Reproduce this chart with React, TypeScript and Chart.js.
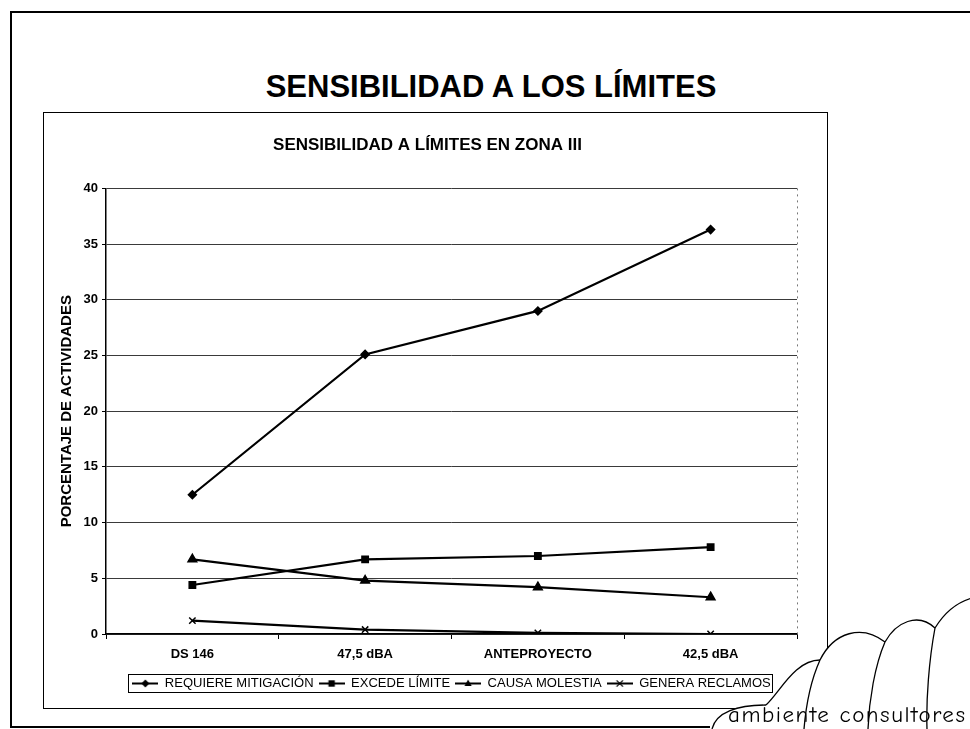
import React, { useEffect, useRef } from "react";
import { Chart, registerables } from "chart.js";

Chart.register(...registerables);

// ---------- data ----------
const categories = ["DS 146", "47,5 dBA", "ANTEPROYECTO", "42,5 dBA"];
const requiereMitigacion = [12.5, 25.1, 29.0, 36.3];
const excedeLimite = [4.4, 6.7, 7.0, 7.8];
const causaMolestia = [6.7, 4.8, 4.2, 3.3];
const generaReclamos = [1.2, 0.4, 0.1, 0.0];
const seriesNames = ["REQUIERE MITIGACIÓN", "EXCEDE LÍMITE", "CAUSA MOLESTIA", "GENERA RECLAMOS"];
const yMin = 0;
const yMax = 40;
const yStep = 5;
const pageTitle = "SENSIBILIDAD A LOS LÍMITES";
const chartTitle = "SENSIBILIDAD A LÍMITES EN ZONA III";
const yAxisTitle = "PORCENTAJE DE ACTIVIDADES";
const logoText = "ambiente consultores";

const FONT = "'Liberation Sans', Arial, Helvetica, sans-serif";

function drawMarker(ctx: CanvasRenderingContext2D, style: string, x: number, y: number, r: number) {
  ctx.beginPath();
  if (style === "rectRot") {
    ctx.moveTo(x, y - r);
    ctx.lineTo(x + r, y);
    ctx.lineTo(x, y + r);
    ctx.lineTo(x - r, y);
    ctx.closePath();
    ctx.fill();
  } else if (style === "rect") {
    ctx.rect(x - r * 0.8, y - r * 0.8, r * 1.6, r * 1.6);
    ctx.fill();
  } else if (style === "triangle") {
    ctx.moveTo(x, y - r);
    ctx.lineTo(x + r * 0.9, y + r * 0.6);
    ctx.lineTo(x - r * 0.9, y + r * 0.6);
    ctx.closePath();
    ctx.fill();
  } else {
    ctx.moveTo(x - r * 0.8, y - r * 0.8);
    ctx.lineTo(x + r * 0.8, y + r * 0.8);
    ctx.moveTo(x + r * 0.8, y - r * 0.8);
    ctx.lineTo(x - r * 0.8, y + r * 0.8);
    ctx.lineWidth = 1.2;
    ctx.stroke();
  }
}

function legendIcon(style: string): HTMLCanvasElement {
  const c = document.createElement("canvas");
  c.width = 26;
  c.height = 11;
  const ctx = c.getContext("2d")!;
  ctx.strokeStyle = "#000";
  ctx.fillStyle = "#000";
  ctx.lineWidth = 2;
  ctx.beginPath();
  ctx.moveTo(0, 5.5);
  ctx.lineTo(26, 5.5);
  ctx.stroke();
  drawMarker(ctx, style, 13, 5.5, 4);
  return c;
}

const frameLines = {
  id: "frameLines",
  afterDraw(chart: any) {
    const { ctx, chartArea, legend } = chart;
    ctx.save();
    // dotted right border of plot area
    ctx.strokeStyle = "#777";
    ctx.lineWidth = 1;
    ctx.setLineDash([2, 4]);
    ctx.beginPath();
    ctx.moveTo(chartArea.right + 0.5, chartArea.top);
    ctx.lineTo(chartArea.right + 0.5, chartArea.bottom);
    ctx.stroke();
    ctx.setLineDash([]);
    // legend border
    if (legend && legend.legendHitBoxes && legend.legendHitBoxes.length) {
      const boxes = legend.legendHitBoxes;
      let l = Infinity, r = -Infinity, t = Infinity, b = -Infinity;
      boxes.forEach((h: any) => {
        l = Math.min(l, h.left);
        r = Math.max(r, h.left + h.width);
        t = Math.min(t, h.top);
        b = Math.max(b, h.top + h.height);
      });
      ctx.strokeStyle = "#000";
      ctx.lineWidth = 1;
      ctx.strokeRect(Math.round(l - 4) + 0.5, Math.round(t - 3) + 0.5, Math.round(r - l + 6), Math.round(b - t + 5));
    }
    ctx.restore();
  },
};

function ChartBox() {
  const ref = useRef<HTMLCanvasElement | null>(null);
  useEffect(() => {
    if (!ref.current) return;
    const styles = ["rectRot", "rect", "triangle", "crossRot"];
    const radii = [4, 4.5, 5, 4.5];
    const values = [requiereMitigacion, excedeLimite, causaMolestia, generaReclamos];
    const icons = styles.map((s) => legendIcon(s));
    const chart = new Chart(ref.current, {
      type: "line",
      data: {
        labels: categories,
        datasets: values.map((v, i) => ({
          label: seriesNames[i],
          data: v,
          borderColor: "#000",
          backgroundColor: "#000",
          borderWidth: 2.2,
          pointStyle: styles[i] as any,
          pointRadius: radii[i],
          pointBorderWidth: 1.5,
          pointBorderColor: "#000",
          pointBackgroundColor: "#000",
          tension: 0,
          fill: false,
        })),
      },
      options: {
        animation: false,
        responsive: false,
        maintainAspectRatio: false,
        layout: { padding: { left: 14, right: 30, top: 0, bottom: 8 } },
        plugins: {
          title: {
            display: true,
            text: chartTitle,
            color: "#000",
            font: { family: FONT, size: 17, weight: "bold" },
            padding: { top: 22, bottom: 33 },
          },
          legend: {
            display: true,
            position: "bottom",
            fullSize: false,
            labels: {
              color: "#000",
              font: { family: FONT, size: 13 },
              usePointStyle: true,
              pointStyleWidth: 26,
              padding: 5,
              generateLabels: (ch: any) =>
                ch.data.datasets.map((ds: any, i: number) => ({
                  text: ds.label,
                  pointStyle: icons[i],
                  fillStyle: "#000",
                  strokeStyle: "#000",
                  lineWidth: 0,
                  hidden: false,
                  datasetIndex: i,
                  fontColor: "#000",
                })),
            },
          },
          tooltip: { enabled: false },
        },
        scales: {
          x: {
            type: "category",
            offset: true,
            grid: {
              display: true,
              drawOnChartArea: false,
              drawTicks: true,
              tickLength: 5,
              offset: true,
              color: "#000",
            },
            border: { display: true, color: "#000", width: 1.5 },
            ticks: {
              color: "#000",
              font: { family: FONT, size: 13, weight: "bold" },
              padding: 8,
              maxRotation: 0,
            },
            afterFit: (s: any) => {
              s.height = 38;
            },
          },
          y: {
            min: yMin,
            max: yMax,
            ticks: {
              stepSize: yStep,
              color: "#000",
              font: { family: FONT, size: 13, weight: "bold" },
              padding: 4,
            },
            grid: {
              color: "#3a3a3a",
              lineWidth: 1,
              drawTicks: true,
              tickLength: 4,
              tickColor: "#000",
            },
            border: { display: true, color: "#000", width: 1.5 },
            title: {
              display: true,
              text: yAxisTitle,
              color: "#000",
              font: { family: FONT, size: 15, weight: "bold" },
              padding: { top: 0, bottom: 7 },
            },
            afterFit: (s: any) => {
              s.width = 48;
            },
          },
        },
      },
      plugins: [frameLines],
    });
    return () => chart.destroy();
  }, []);
  return <canvas ref={ref} width={783} height={595} style={{ display: "block", width: 783, height: 595 }} />;
}

export default function App() {
  return (
    <div
      style={{
        position: "absolute",
        left: 0,
        top: 0,
        width: 970,
        height: 729,
        background: "#fff",
        overflow: "hidden",
        fontFamily: FONT,
      }}
    >
      {/* outer frame */}
      <div style={{ position: "absolute", left: 10, top: 11, width: 962, height: 0, borderTop: "2px solid #000" }} />
      <div style={{ position: "absolute", left: 10, top: 11, width: 0, height: 716, borderLeft: "2px solid #000" }} />
      <div style={{ position: "absolute", left: 10, top: 726, width: 700, height: 0, borderTop: "2px solid #000" }} />
      {/* page title */}
      <div
        style={{
          position: "absolute",
          left: 0,
          width: 982,
          top: 69,
          textAlign: "center",
          fontSize: 31,
          fontWeight: "bold",
          color: "#000",
          lineHeight: "36px",
        }}
      >
        {pageTitle}
      </div>
      {/* chart box */}
      <div
        style={{
          position: "absolute",
          left: 43,
          top: 112,
          width: 783,
          height: 595,
          border: "1px solid #000",
          background: "#fff",
        }}
      >
        <ChartBox />
      </div>
      {/* logo */}
      <svg
        width={970}
        height={729}
        style={{ position: "absolute", left: 0, top: 0, pointerEvents: "none" }}
      >
        <path
          d="M 712 729 C 716 712, 738 705, 766 705 C 780 692, 795 660, 820 660 C 834 632, 862 624, 885 642 C 896 622, 918 612, 935 628 C 946 610, 958 602, 972 598 L 972 729 Z"
          fill="#fff"
          stroke="none"
        />
        <g fill="none" stroke="#000" strokeWidth={1.3}>
          <path d="M 712 729 C 716 712, 738 705, 766 705" />
          <path d="M 766 705 C 780 692, 795 660, 820 660" />
          <path d="M 820 660 C 834 632, 862 624, 885 642" />
          <path d="M 885 642 C 896 622, 918 612, 935 628" />
          <path d="M 935 628 C 946 610, 958 602, 972 598" />
          <path d="M 820 660 C 811 680, 806 705, 804 729" />
          <path d="M 885 642 C 875 665, 869 700, 868 729" />
          <path d="M 935 628 C 929 660, 926 700, 927 729" />
        </g>
        <text
          x={728}
          y={722}
          fontFamily="'Comic Neue', 'Comic Sans MS', 'DejaVu Sans', sans-serif"
          fontSize={23}
          textLength={237}
          lengthAdjust="spacing"
          fill="#000"
        >
          {logoText}
        </text>
      </svg>
    </div>
  );
}
